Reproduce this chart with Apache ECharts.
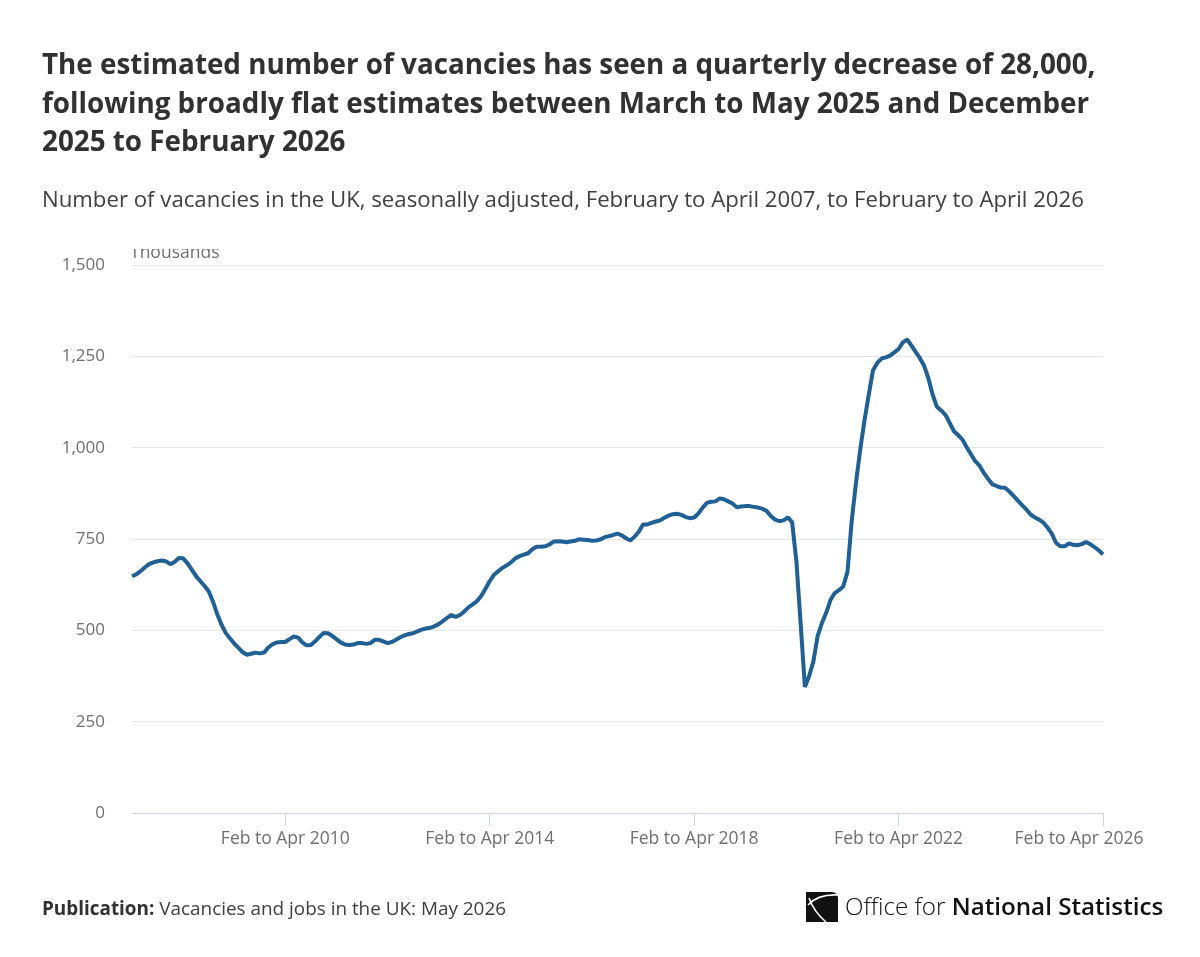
<!DOCTYPE html>
<html>
<head>
<meta charset="utf-8">
<script src="https://cdn.jsdelivr.net/npm/echarts@6/dist/echarts.min.js"></script>
<style>
  html, body { margin: 0; padding: 0; background: #fff; }
  #chart { width: 1200px; height: 957px; }
</style>
</head>
<body>
<div id="chart"></div>
<script>
// vacancies, thousands, rolling 3-month periods from Feb to Apr 2007
const vacancies = [
  648, 653, 662, 672, 681, 686, 689, 691, 689, 681, 687, 698,
  697, 684, 667, 649, 635, 622, 607, 579, 545, 516, 493, 478,
  464, 452, 440, 433, 436, 439, 437, 439, 453, 462, 467, 468,
  468, 476, 483, 480, 467, 459, 460, 470, 482, 493, 492, 485,
  476, 467, 461, 460, 461, 465, 465, 463, 465, 474, 474, 470,
  465, 468, 474, 481, 486, 490, 492, 497, 502, 505, 507, 511,
  517, 525, 534, 542, 537, 542, 551, 563, 571, 580, 594, 614,
  635, 652, 662, 671, 678, 686, 697, 703, 707, 711, 722, 729,
  729, 730, 735, 743, 744, 743, 741, 743, 745, 749, 748, 747,
  745, 746, 749, 755, 758, 761, 765, 760, 752, 746, 756, 770,
  790, 790, 794, 798, 801, 808, 814, 818, 819, 816, 810, 807,
  809, 820, 836, 849, 852, 853, 861, 859, 853, 847, 837, 839,
  840, 840, 838, 836, 833, 827, 813, 803, 799, 801, 809, 796,
  690, 520, 345, 375, 415, 485, 520, 548, 583, 602, 610, 620,
  660, 800, 904, 995, 1075, 1145, 1212, 1232, 1244, 1247, 1252, 1261,
  1270, 1288, 1296, 1280, 1262, 1245, 1224, 1190, 1145, 1112, 1102, 1090,
  1068, 1045, 1034, 1022, 1001, 982, 963, 951, 931, 915, 900, 895,
  891, 890, 880, 868, 855, 843, 831, 817, 809, 803, 795, 781,
  764, 739, 730, 730, 738, 734, 733, 736, 742, 736, 728, 719,
  708
];

const monthNames = ['Jan', 'Feb', 'Mar', 'Apr', 'May', 'Jun', 'Jul', 'Aug', 'Sep', 'Oct', 'Nov', 'Dec'];
const firstEndYear = 2007;
const firstEndMonth = 3; // April

const periods = vacancies.map((v, i) => {
  const end = firstEndMonth + i;
  const year = firstEndYear + Math.floor(end / 12);
  const start = (end - 2 + 12) % 12;
  return monthNames[start] + ' to ' + monthNames[end % 12] + ' ' + year;
});

const labelledPeriods = ['Feb to Apr 2010', 'Feb to Apr 2014', 'Feb to Apr 2018', 'Feb to Apr 2022', 'Feb to Apr 2026'];
const yTicks = [0, 250, 500, 750, 1000, 1250, 1500];

const showTick = (i, name) => labelledPeriods.indexOf(name) >= 0;
const lastPeriod = periods[periods.length - 1];

const chart = echarts.init(document.getElementById('chart'), null, { renderer: 'canvas' });

chart.setOption({
  animation: false,
  backgroundColor: '#fff',
  textStyle: { fontFamily: 'Open Sans' },
  title: [{
    left: 42,
    top: 47,
    padding: 0,
    text: 'The estimated number of vacancies has seen a quarterly decrease of 28,000,\nfollowing broadly flat estimates between March to May 2025 and December\n2025 to February 2026',
    textStyle: {
      fontFamily: 'Open Sans', fontWeight: 'bold', fontSize: 27.8,
      lineHeight: 38.5, color: '#323132'
    }
  }, {
    left: 42,
    top: 190,
    padding: 0,
    text: 'Number of vacancies in the UK, seasonally adjusted, February to April 2007, to February to April 2026',
    textStyle: { fontFamily: 'Open Sans', fontWeight: 'normal', fontSize: 22.2, color: '#414042' }
  }],
  grid: { left: 132, right: 97, top: 265, bottom: 144, containLabel: false },
  xAxis: {
    type: 'category',
    data: periods,
    boundaryGap: false,
    axisLine: { show: true, lineStyle: { color: '#ccd6eb', width: 1 } },
    axisTick: { show: true, interval: showTick, length: 13, lineStyle: { color: '#ccd6eb' } },
    axisLabel: {
      interval: showTick, color: '#707071', fontSize: 17.5, margin: 17,
      fontFamily: 'Open Sans', showMaxLabel: true,
      // last label is nudged left to stay inside the frame
      formatter: name => name === lastPeriod ? '{last|' + name + '}' : name,
      rich: {
        last: { color: '#707071', fontSize: 17.5, fontFamily: 'Open Sans', padding: [0, 48, 0, 0] }
      }
    },
    splitLine: { show: false }
  },
  yAxis: {
    type: 'value',
    min: yTicks[0],
    max: yTicks[yTicks.length - 1],
    interval: 250,
    axisLine: { show: false },
    axisTick: { show: false },
    axisLabel: {
      color: '#707071', fontSize: 17, margin: 27, fontFamily: 'Open Sans',
      formatter: v => v.toLocaleString('en-GB')
    },
    splitLine: { lineStyle: { color: '#e6e6e6', width: 1 } }
  },
  series: [{
    type: 'line',
    data: vacancies,
    symbol: 'none',
    lineStyle: { color: '#206095', width: 4 },
    itemStyle: { color: '#206095' }
  }],
  graphic: [
    {
      type: 'text', left: 130, top: 244, z: 1,
      style: { text: 'Thousands', fill: '#707071', font: '17.5px "Open Sans"' }
    },
    {
      type: 'rect', left: 125, top: 228, z: 2,
      shape: { width: 120, height: 21 },
      style: { fill: '#fff' }
    },
    {
      type: 'text', left: 42, top: 900,
      style: {
        text: '{b|Publication:} Vacancies and jobs in the UK: May 2026',
        rich: {
          b: { fontWeight: 'bold', fontSize: 18.9, fill: '#323132', fontFamily: 'Open Sans' }
        },
        fill: '#414042', fontSize: 18.9, fontFamily: 'Open Sans'
      }
    },
    {
      type: 'rect', left: 806, top: 892,
      shape: { width: 32, height: 30, r: [0, 6, 0, 0] },
      style: { fill: '#111' }
    },
    {
      type: 'bezierCurve', x: 806, y: 892, z: 5,
      shape: { x1: 2, y1: 13, cpx1: 12, cpy1: 2, x2: 32, y2: 3 },
      style: { stroke: '#fff', lineWidth: 1.6, fill: null }
    },
    {
      type: 'bezierCurve', x: 806, y: 892, z: 5,
      shape: { x1: 3, y1: 6, cpx1: 8, cpy1: 20, x2: 20, y2: 30 },
      style: { stroke: '#fff', lineWidth: 1.6, fill: null }
    },
    {
      type: 'text', left: 845, top: 896,
      style: {
        text: '{l|Office for }{m|National Statistics}',
        rich: {
          l: { fontSize: 24.2, fontWeight: 300, fill: '#111', fontFamily: 'Open Sans' },
          m: { fontSize: 24.2, fontWeight: 600, fill: '#111', fontFamily: 'Open Sans' }
        }
      }
    }
  ]
});
</script>
</body>
</html>
